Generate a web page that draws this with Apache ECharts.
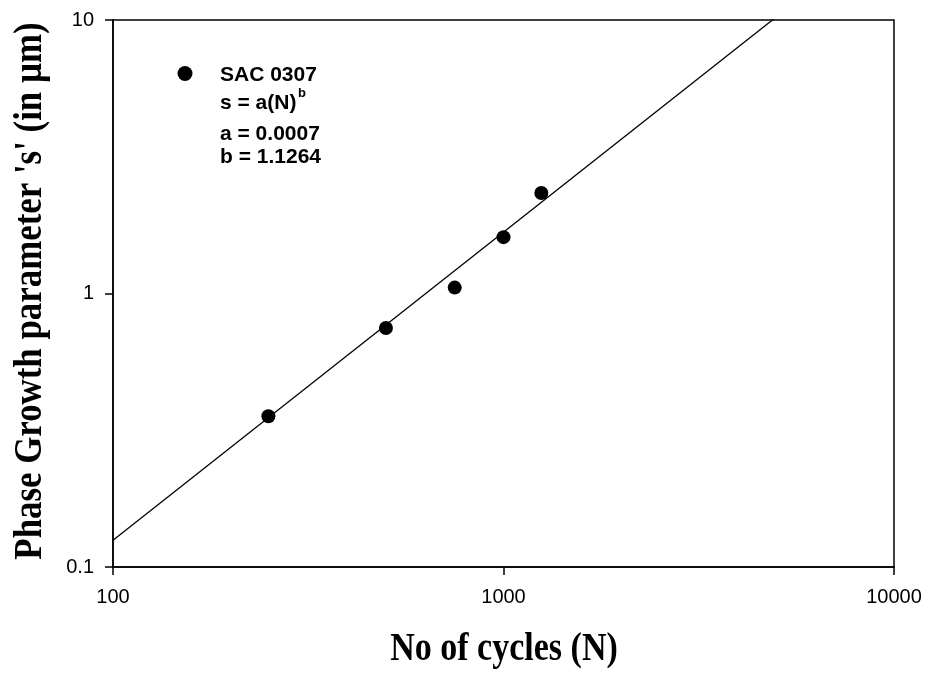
<!DOCTYPE html>
<html>
<head>
<meta charset="utf-8">
<style>
  html, body { margin: 0; padding: 0; background: #fff; }
  #chart { width: 930px; height: 673px; }
</style>
<script src="https://cdn.jsdelivr.net/npm/echarts@6/dist/echarts.min.js"></script>
</head>
<body>
<div id="chart"></div>
<script>
// Measured phase growth for SAC 0307
var cycles = [250, 500, 750, 1000, 1250];
var growth = [0.356, 0.748, 1.051, 1.607, 2.33];

// Power-law fit s = a(N)^b
var fitA = 0.0007;
var fitB = 1.1264;

// Axis ticks and their labels
var xTicks = [100, 1000, 10000];
var xTickLabels = ['100', '1000', '10000'];
var yTicks = [0.1, 1, 10];
var yTickLabels = ['0.1', '1', '10'];

var seriesName = 'SAC 0307';
var legendLines = ['s = a(N)', 'a = ' + fitA.toFixed(4), 'b = ' + fitB.toFixed(4)];

function tickLabel(ticks, labels) {
  return function (v) {
    for (var i = 0; i < ticks.length; i++) {
      if (Math.abs(Math.log10(v) - Math.log10(ticks[i])) < 1e-6) return labels[i];
    }
    return '';
  };
}

var points = cycles.map(function (n, i) { return [n, growth[i]]; });
var xMin = xTicks[0], xMax = xTicks[xTicks.length - 1];
var fitLine = [xMin, xMax].map(function (n) { return [n, fitA * Math.pow(n, fitB)]; });

var sansFont = '"Liberation Sans", Arial, sans-serif';
var serifFont = '"Liberation Serif", "Times New Roman", serif';

var chart = echarts.init(document.getElementById('chart'), null, { renderer: 'canvas' });
chart.setOption({
  animation: false,
  backgroundColor: '#ffffff',
  grid: {
    left: 113, right: 36, top: 20, bottom: 106,
    show: true, borderColor: '#000', borderWidth: 1.5,
    outerBoundsMode: 'none', containLabel: false
  },
  xAxis: {
    type: 'log', logBase: 10, min: xMin, max: xMax, splitNumber: 2,
    axisLine: { show: true, onZero: false, lineStyle: { color: '#000', width: 1.5 } },
    axisTick: { show: true, inside: false, length: 8, lineStyle: { color: '#000', width: 1.5 } },
    minorTick: { show: false },
    splitLine: { show: false },
    axisLabel: { margin: 20, color: '#000', fontSize: 20, fontFamily: sansFont,
                 formatter: tickLabel(xTicks, xTickLabels) }
  },
  yAxis: {
    type: 'log', logBase: 10, min: yTicks[0], max: yTicks[yTicks.length - 1], splitNumber: 2,
    axisLine: { show: true, onZero: false, lineStyle: { color: '#000', width: 1.5 } },
    axisTick: { show: true, inside: false, length: 8, lineStyle: { color: '#000', width: 1.5 } },
    minorTick: { show: false },
    splitLine: { show: false },
    axisLabel: { margin: 19, color: '#000', fontSize: 20, fontFamily: sansFont,
                 formatter: tickLabel(yTicks, yTickLabels) }
  },
  series: [
    {
      name: 'fit', type: 'line', data: fitLine, showSymbol: false, clip: true,
      lineStyle: { color: '#000', width: 1.3 }, silent: true, z: 2
    },
    {
      name: seriesName, type: 'scatter', data: points, symbol: 'circle', symbolSize: 14,
      itemStyle: { color: '#000', opacity: 1 }, z: 3
    }
  ],
  graphic: [
    { type: 'circle', shape: { cx: 185, cy: 73.5, r: 7.5 }, style: { fill: '#000' } },
    { type: 'text', x: 220, y: 75, style: { text: seriesName, fill: '#000', font: 'bold 21px ' + sansFont, verticalAlign: 'middle' } },
    { type: 'text', x: 220, y: 103, style: { text: legendLines[0], fill: '#000', font: 'bold 21px ' + sansFont, verticalAlign: 'middle' } },
    { type: 'text', x: 298, y: 93, style: { text: 'b', fill: '#000', font: 'bold 13px ' + sansFont, verticalAlign: 'middle' } },
    { type: 'text', x: 220, y: 134, style: { text: legendLines[1], fill: '#000', font: 'bold 21px ' + sansFont, verticalAlign: 'middle' } },
    { type: 'text', x: 220, y: 157, style: { text: legendLines[2], fill: '#000', font: 'bold 21px ' + sansFont, verticalAlign: 'middle' } },
    { type: 'text', x: 504, y: 650, scaleX: 0.85,
      style: { text: 'No of cycles (N)', fill: '#000', font: 'bold 40px ' + serifFont, align: 'center', verticalAlign: 'middle' } },
    { type: 'text', x: 30, y: 291, rotation: Math.PI / 2, scaleX: 0.85,
      style: { text: "Phase Growth parameter 's' (in \u00b5m)", fill: '#000', font: 'bold 41px ' + serifFont, align: 'center', verticalAlign: 'middle' } }
  ]
});
</script>
</body>
</html>
